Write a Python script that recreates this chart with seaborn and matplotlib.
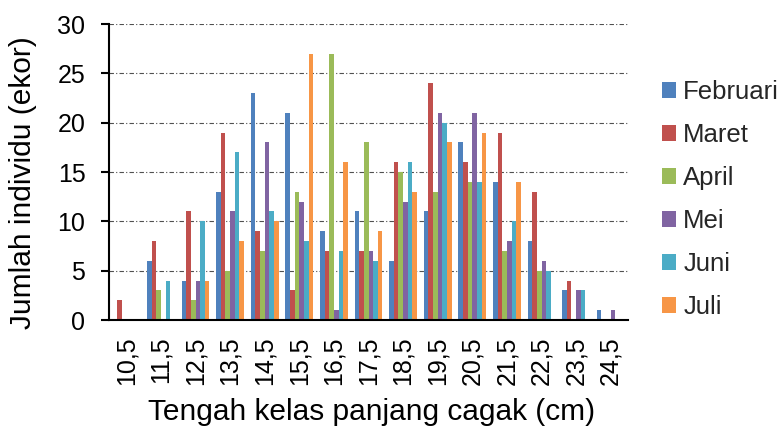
import matplotlib
matplotlib.use("Agg")
import matplotlib.pyplot as plt
import seaborn as sns
import pandas as pd

# Fork-length class midpoints (cm)
kelas = ["10,5", "11,5", "12,5", "13,5", "14,5", "15,5", "16,5", "17,5",
         "18,5", "19,5", "20,5", "21,5", "22,5", "23,5", "24,5"]

# Number of individuals per class for each sampling month
februari = [0, 6, 4, 13, 23, 21, 9, 11, 6, 11, 18, 14, 8, 3, 1]
maret    = [2, 8, 11, 19, 9, 3, 7, 7, 16, 24, 16, 19, 13, 4, 0]
april    = [0, 3, 2, 5, 7, 13, 27, 18, 15, 13, 14, 7, 5, 0, 0]
mei      = [0, 0, 4, 11, 18, 12, 1, 7, 12, 21, 21, 8, 6, 3, 1]
juni     = [0, 4, 10, 17, 11, 8, 7, 6, 16, 20, 14, 10, 5, 3, 0]
juli     = [0, 0, 4, 8, 10, 27, 16, 9, 13, 18, 19, 14, 0, 0, 0]

bulan = ["Februari", "Maret", "April", "Mei", "Juni", "Juli"]
warna = ["#4F81BD", "#C0504D", "#9BBB59", "#8064A2", "#4BACC6", "#F79646"]

rows = []
for nama, vals in zip(bulan, [februari, maret, april, mei, juni, juli]):
    for k, v in zip(kelas, vals):
        rows.append({"kelas": k, "bulan": nama, "jumlah": v})
df = pd.DataFrame(rows)

sns.set_theme(style="white")
plt.rcParams["font.family"] = ["Liberation Sans", "DejaVu Sans"]

fig = plt.figure(figsize=(7.82, 4.29), dpi=100)
ax = fig.add_axes([109 / 782, 1 - 320 / 429, 519 / 782, 296 / 429])

sns.barplot(data=df, x="kelas", y="jumlah", hue="bulan", order=kelas,
            hue_order=bulan, palette=warna, width=0.8, saturation=1,
            edgecolor="none", linewidth=0, ax=ax, zorder=3)

ax.set_ylim(0, 30)
ax.set_xlim(-0.5, len(kelas) - 0.5)
ax.set_yticks(range(0, 31, 5))
ax.yaxis.grid(True, color="#505050", linestyle=(0, (4, 2, 1, 2)), linewidth=0.8, zorder=0)
ax.xaxis.grid(False)
ax.set_axisbelow(True)

for s in ["top", "right"]:
    ax.spines[s].set_visible(False)
for s in ["left", "bottom"]:
    ax.spines[s].set_color("black")
    ax.spines[s].set_linewidth(1.5)
    ax.spines[s].set_zorder(4)

ax.tick_params(axis="y", left=True, length=6, width=1.5, color="black",
               pad=11, labelsize=18, labelcolor="black", direction="out")
ax.tick_params(axis="x", bottom=False, length=0, pad=12, labelsize=18,
               labelcolor="black", labelrotation=90)

ax.set_xlabel("Tengah kelas panjang cagak (cm)", fontsize=21.5, color="black")
ax.set_ylabel("Jumlah individu (ekor)", fontsize=21.5, color="black")
ax.xaxis.set_label_coords(0.505, -0.262)
ax.yaxis.set_label_coords(-0.139, 0.465)

handles, labels = ax.get_legend_handles_labels()
ax.legend(handles, labels, loc="center left", bbox_to_anchor=(662 / 782, 1 - 199.5 / 429),
          bbox_transform=fig.transFigure, frameon=False, fontsize=18.5,
          handlelength=0.55, handleheight=0.55, handletextpad=0.28,
          labelspacing=0.74, borderpad=0, borderaxespad=0)

fig.savefig("out.png", dpi=100)
